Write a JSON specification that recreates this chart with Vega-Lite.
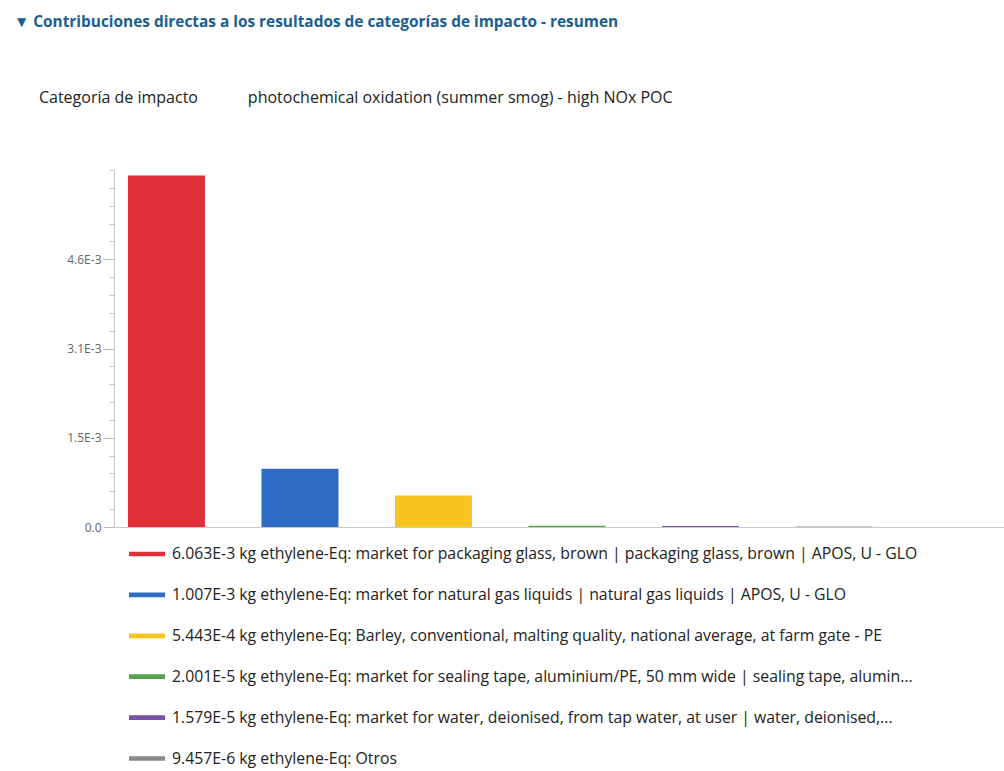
{
  "$schema": "https://vega.github.io/schema/vega-lite/v6.json",
  "width": 890,
  "height": 357,
  "autosize": {"type": "none"},
  "padding": {"left": 114, "top": 170, "right": 0, "bottom": 244},
  "background": "white",
  "title": {
    "text": "▼ Contribuciones directas a los resultados de categorías de impacto - resumen",
    "subtitle": "\u200b\u00a0\u00a0\u00a0\u00a0\u00a0\u00a0Categoría de impacto\u00a0\u00a0\u00a0\u00a0\u00a0\u00a0\u00a0\u00a0\u00a0\u00a0\u00a0\u00a0photochemical oxidation (summer smog) - high NOx POC",
    "anchor": "start",
    "frame": "group",
    "dx": -100,
    "offset": 64,
    "font": "Open Sans",
    "fontSize": 15.4,
    "fontWeight": "bold",
    "color": "#1b5e8f",
    "subtitleFont": "Open Sans",
    "subtitleFontSize": 16,
    "subtitleColor": "#222222",
    "subtitlePadding": 59
  },
  "data": {
    "values": [
      {"label": "6.063E-3 kg ethylene-Eq: market for packaging glass, brown | packaging glass, brown | APOS, U - GLO", "value": 0.006063},
      {"label": "1.007E-3 kg ethylene-Eq: market for natural gas liquids | natural gas liquids | APOS, U - GLO", "value": 0.001007},
      {"label": "5.443E-4 kg ethylene-Eq: Barley, conventional, malting quality, national average, at farm gate - PE", "value": 0.0005443},
      {"label": "2.001E-5 kg ethylene-Eq: market for sealing tape, aluminium/PE, 50 mm wide | sealing tape, alumin...", "value": 0.00002001},
      {"label": "1.579E-5 kg ethylene-Eq: market for water, deionised, from tap water, at user | water, deionised,...", "value": 0.00001579},
      {"label": "9.457E-6 kg ethylene-Eq: Otros", "value": 0.000009457}
    ]
  },
  "encoding": {
    "x": {
      "field": "label",
      "type": "nominal",
      "sort": {"field": "value", "order": "descending"},
      "scale": {"paddingInner": 0.4232, "paddingOuter": 0.545, "align": 0.096, "round": false},
      "axis": {"labels": false, "ticks": false, "title": null, "domainColor": "#c8c8c8", "domainWidth": 1}
    }
  },
  "layer": [
    {
      "mark": {"type": "bar", "opacity": 0},
      "encoding": {
        "y": {
          "field": "value",
          "type": "quantitative",
          "scale": {"domain": [0, 0.00616], "nice": false, "zero": true},
          "axis": {
            "orient": "left",
            "values": [0.000308, 0.000616, 0.000924, 0.001232, 0.001848, 0.002156, 0.002464, 0.002772, 0.003388, 0.003696, 0.004004, 0.004312, 0.004928, 0.005236, 0.005544, 0.005852, 0.00616],
            "labels": false,
            "domain": false,
            "grid": false,
            "title": null,
            "tickSize": 5,
            "tickColor": "#c8c8c8"
          }
        }
      }
    },
    {
      "mark": {"type": "bar"},
      "encoding": {
        "y": {
          "field": "value",
          "type": "quantitative",
          "scale": {"domain": [0, 0.00616], "nice": false, "zero": true},
          "axis": {
            "orient": "left",
            "values": [0, 0.00154, 0.00308, 0.00462],
            "labelExpr": "datum.value == 0 ? '0.0' : replace(format(datum.value, '.1e'), 'e', 'E')",
            "grid": false,
            "title": null,
            "tickSize": 11,
            "tickColor": "#b8b8b8",
            "domainColor": "#c8c8c8",
            "labelFont": "Open Sans",
            "labelFontSize": 12,
            "labelColor": "#666666",
            "labelPadding": 2
          }
        },
        "color": {
          "field": "label",
          "type": "nominal",
          "sort": {"field": "value", "order": "descending"},
          "scale": {"range": ["#e0303a", "#2f6cc4", "#f8c421", "#55a24e", "#7a4fa8", "#8a8a8a"]},
          "legend": {
            "orient": "none",
            "legendX": 15,
            "legendY": 366,
            "direction": "vertical",
            "title": null,
            "symbolType": "M-1,-0.13H1V0.13H-1Z",
            "symbolSize": 1296,
            "symbolStrokeWidth": 0,
            "symbolOpacity": 1,
            "labelFont": "Open Sans",
            "labelFontSize": 15.8,
            "labelColor": "#222222",
            "labelLimit": 900,
            "labelOffset": 7,
            "rowPadding": 14.9
          }
        }
      }
    }
  ],
  "resolve": {"axis": {"y": "independent"}},
  "config": {"view": {"stroke": null}}
}
